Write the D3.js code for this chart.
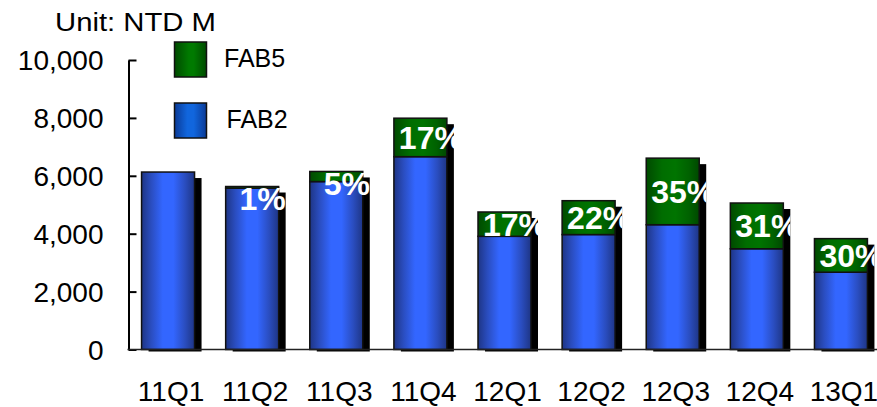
<!DOCTYPE html>
<html>
<head>
<meta charset="utf-8">
<script src="https://cdn.jsdelivr.net/npm/d3@7"></script>
<style>
  html, body { margin: 0; padding: 0; background: #fff; }
  svg { display: block; font-family: "Liberation Sans", Arial, sans-serif; }
</style>
</head>
<body>
<svg id="chart" width="877" height="407"></svg>
<script>
const categories = ["11Q1", "11Q2", "11Q3", "11Q4", "12Q1", "12Q2", "12Q3", "12Q4", "13Q1"];
const fab2 = [6130, 5570, 5800, 6660, 3910, 3970, 4310, 3480, 2670];
const fab5 = [0, 60, 350, 1330, 840, 1170, 2300, 1580, 1160];
const shareLabels = ["", "1%", "5%", "17%", "17%", "22%", "35%", "31%", "30%"];
const yTicks = [0, 2000, 4000, 6000, 8000, 10000];
const seriesNames = ["FAB5", "FAB2"];
const unitLabel = "Unit: NTD M";

const rows = categories.map((c, i) => ({ c, i, fab2: fab2[i], fab5: fab5[i], label: shareLabels[i] }));

const svg = d3.select("#chart");
const defs = svg.append("defs");

function hGrad(id, stops) {
  const g = defs.append("linearGradient").attr("id", id)
    .attr("x1", "0%").attr("x2", "100%").attr("y1", "0%").attr("y2", "0%");
  stops.forEach(s => g.append("stop").attr("offset", s[0]).attr("stop-color", s[1]));
}
hGrad("gBlue", [["0%", "#1e3585"], ["18%", "#2a4dbf"], ["40%", "#3366ff"], ["60%", "#3366ff"], ["82%", "#2a4dbf"], ["100%", "#1e3585"]]);
hGrad("gGreen", [["0%", "#004a00"], ["30%", "#006d00"], ["55%", "#007400"], ["80%", "#006200"], ["100%", "#004800"]]);
hGrad("gLegBlue", [["0%", "#0a3a96"], ["40%", "#1166dd"], ["60%", "#1166dd"], ["100%", "#0a3a96"]]);
hGrad("gLegGreen", [["0%", "#004a00"], ["45%", "#007a00"], ["60%", "#007a00"], ["100%", "#004a00"]]);

const y = d3.scaleLinear().domain([0, 10000]).range([349.5, 60]);
const x = d3.scaleBand().domain(categories).range([126, 883]).paddingInner(0.37).paddingOuter(0.185);
const bw = x.bandwidth();
const sdx = 7, sdy = 6;

// shadows
svg.append("g").selectAll("rect").data(rows).join("rect")
  .attr("x", d => x(d.c) + sdx)
  .attr("y", d => y(d.fab2 + d.fab5) + sdy)
  .attr("width", bw)
  .attr("height", d => y(0) + 2 - (y(d.fab2 + d.fab5) + sdy))
  .attr("fill", "#000");

// FAB2 segments
svg.append("g").selectAll("rect").data(rows).join("rect")
  .attr("x", d => x(d.c))
  .attr("y", d => y(d.fab2))
  .attr("width", bw)
  .attr("height", d => y(0) - y(d.fab2))
  .attr("fill", "url(#gBlue)")
  .attr("stroke", "#111").attr("stroke-width", 1.5);

// FAB5 segments
svg.append("g").selectAll("rect").data(rows.filter(d => d.fab5 > 0)).join("rect")
  .attr("x", d => x(d.c))
  .attr("y", d => y(d.fab2 + d.fab5))
  .attr("width", bw)
  .attr("height", d => y(d.fab2) - y(d.fab2 + d.fab5))
  .attr("fill", "url(#gGreen)")
  .attr("stroke", "#111").attr("stroke-width", 1.5);

// clip paths for labels
rows.forEach(d => {
  defs.append("clipPath").attr("id", "clip" + d.i)
    .append("rect")
    .attr("x", x(d.c) - 5).attr("y", 0)
    .attr("width", bw + sdx + 5).attr("height", 407);
});

// share labels
svg.append("g").selectAll("text").data(rows).join("text")
  .attr("clip-path", d => "url(#clip" + d.i + ")")
  .attr("x", d => x(d.c) + bw / 2 + 10.5)
  .attr("y", d => {
    const top = y(d.fab2 + d.fab5);
    const mid = (top + y(d.fab2)) / 2;
    return Math.max(mid, top + 12) + 11.5;
  })
  .attr("text-anchor", "middle")
  .attr("font-size", 32).attr("font-weight", "bold").attr("fill", "#fff")
  .text(d => d.label);

// y axis
const yAxis = svg.append("g").attr("transform", "translate(128.5,0)")
  .call(d3.axisLeft(y).tickValues(yTicks).tickSize(-8).tickSizeOuter(0).tickPadding(25)
    .tickFormat(d3.format(",")));
yAxis.select(".domain").attr("stroke", "#000").attr("stroke-width", 2);
yAxis.selectAll(".tick line").attr("stroke", "#000").attr("stroke-width", 2);
yAxis.selectAll(".tick text").attr("font-size", 28).attr("fill", "#000")
  .attr("font-family", "'Liberation Sans', Arial, sans-serif").attr("dy", "0.35em");

// x axis baseline
svg.append("line").attr("x1", 127.5).attr("x2", 877).attr("y1", y(0)).attr("y2", y(0))
  .attr("stroke", "#222").attr("stroke-width", 1.5);

// x axis labels
const xAxis = svg.append("g").attr("transform", `translate(3,${y(0)})`)
  .call(d3.axisBottom(x).tickSize(0).tickPadding(32));
xAxis.select(".domain").remove();
xAxis.selectAll(".tick text").attr("font-size", 28).attr("fill", "#000")
  .attr("font-family", "'Liberation Sans', Arial, sans-serif");

// unit label
svg.append("text").attr("x", 55).attr("y", 31)
  .attr("font-size", 25).attr("fill", "#000")
  .attr("textLength", 161).attr("lengthAdjust", "spacingAndGlyphs")
  .text(unitLabel);

// legend
const legFill = ["url(#gLegGreen)", "url(#gLegBlue)"];
const legY = [42, 103];
const legText = [224, 226.5];
seriesNames.forEach((n, i) => {
  svg.append("rect").attr("x", 174.5).attr("y", legY[i]).attr("width", 32).attr("height", 35)
    .attr("fill", legFill[i]).attr("stroke", "#111").attr("stroke-width", 1.5);
  svg.append("text").attr("x", legText[i]).attr("y", legY[i] + 25)
    .attr("font-size", 25).attr("fill", "#000").text(n);
});
</script>
</body>
</html>
